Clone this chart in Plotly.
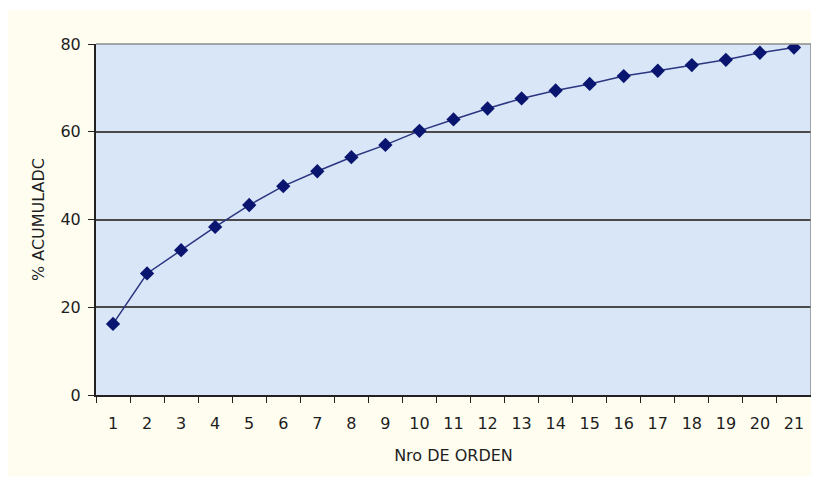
import plotly.graph_objects as go

orden = [str(i) for i in range(1, 22)]
acumulado = [16.2, 27.7, 33.0, 38.3, 43.3, 47.6, 51.0, 54.2, 57.0, 60.2,
             62.8, 65.3, 67.6, 69.4, 70.9, 72.7, 73.9, 75.2, 76.4, 78.0, 79.2]
y_ticks = [0, 20, 40, 60, 80]

fig = go.Figure()
fig.add_trace(go.Scatter(
    x=orden, y=acumulado, mode="lines+markers",
    line=dict(color="#2B3580", width=1.5),
    marker=dict(symbol="diamond", size=11, color="#0A1570"),
    showlegend=False,
))

# page has an 8px body margin, so the figure is drawn 8px right/down
OFF = 8
W, H = 819 - OFF, 478 - OFF
L, T = 96 - OFF, 44 - OFF
R = W - (811 - OFF)
B = H - (395 - OFF)
pw, ph = W - L - R, H - T - B

def px(x):
    return (x - OFF - L) / pw

def py(y):
    return (H - B - (y - OFF)) / ph

FONT = "DejaVu Sans, Liberation Sans, Arial, sans-serif"

fig.update_layout(
    width=W, height=H,
    margin=dict(l=L, r=R, t=T, b=B),
    paper_bgcolor="white",
    plot_bgcolor="#D9E6F8",
    font=dict(family=FONT, size=16, color="#1E1E1E"),
    shapes=[
        dict(type="rect", xref="paper", yref="paper", layer="below",
             x0=px(7), x1=px(818), y0=py(476), y1=py(10),
             fillcolor="#FFFDF0", line=dict(width=0)),
        dict(type="rect", xref="paper", yref="paper", layer="below",
             x0=0, x1=1, y0=0, y1=1,
             fillcolor="#D9E6F8", line=dict(width=0)),
        dict(type="line", xref="paper", yref="paper", x0=1, x1=1, y0=0, y1=1,
             line=dict(color="#8A8A8A", width=1.5)),
        dict(type="line", xref="paper", yref="paper", x0=0, x1=1, y0=1, y1=1,
             line=dict(color="#8A8A8A", width=1.5)),
    ],
)
fig.update_xaxes(
    type="category", range=[-0.5, 20.5],
    tickson="boundaries", ticks="outside", ticklen=6, tickcolor="#222222",
    showline=True, linecolor="#222222", linewidth=2,
    showgrid=False, zeroline=False,
    ticklabelstandoff=13,
    title=dict(text="Nro DE ORDEN", standoff=18, font=dict(size=16)),
)
fig.update_yaxes(
    range=[0, 80], tickvals=y_ticks, ticks="outside", ticklen=6, tickcolor="#222222",
    showline=True, linecolor="#222222", linewidth=2,
    showgrid=True, gridcolor="#4A4A4A", gridwidth=2, zeroline=False,
    title=dict(text="% ACUMULADC", standoff=12, font=dict(size=16)),
    ticklabelstandoff=4,
)

fig.write_html("out.html")
